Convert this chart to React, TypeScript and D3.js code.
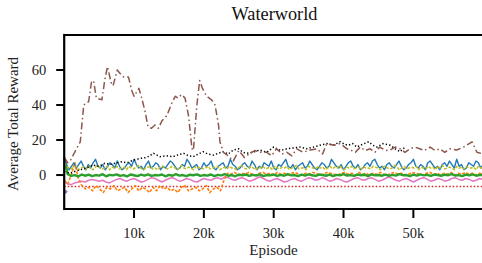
import { useRef, useEffect } from 'react';
import * as d3 from 'd3';

const WIDTH = 482;
const HEIGHT = 263;
const MAX_EPISODE = 60000;

// brown dash-dot run (episodes in thousands)
const brownX = [0, 0.5, 1, 1.5, 2.3, 2.8, 3.5, 3.9, 4.2, 4.6, 5.4, 5.8, 6.2, 6.7, 7.0, 7.6, 8.0, 8.5, 9.2, 9.7, 10, 10.7, 11.1, 11.6, 12, 12.5, 13, 13.5, 14, 14.7, 15.4, 15.9, 16.3, 16.8, 17.3, 17.8, 18.3, 18.5, 19, 19.4, 19.8, 20.4, 21.1, 21.6, 22.1, 22.3, 22.8, 23.5, 24.2, 25, 25.8, 26.6, 27.3, 28, 29, 29.7, 30.4, 31.2, 31.9, 32.6, 33.3, 34.2, 35.2, 36.2, 37, 37.6, 38.6, 39.5, 40.5, 41, 41.7, 42.4, 43.1, 43.8, 44.5, 45.2, 46, 46.7, 47.4, 48.1, 48.8, 49.5, 50.2, 50.9, 51.6, 52.4, 53.1, 53.8, 54.5, 55.2, 56.2, 57.2, 58.4, 59.1, 60];
const brownY = [10, 7, 9, 13, 19, 40, 42, 53, 54, 44, 43, 54, 62, 53, 51, 60, 58, 56, 56, 48, 45, 49.5, 44, 36, 27.6, 26.7, 28.6, 26.7, 31, 34, 41, 45, 44, 46, 44, 34, 15, 14, 40, 54, 49.5, 45, 43, 40, 28.6, 19, 13, 11, 8, 14, 10, 12.4, 14, 13, 13, 11, 15, 12, 13, 11, 15, 13, 14.3, 15, 12, 18, 17, 18, 15, 14.3, 13, 16, 14, 15, 13, 16, 14, 14.3, 16, 15, 13, 15, 16, 15, 14, 16, 14, 15, 13, 15, 14.3, 16, 19, 13, 12];

// black dotted run
const blackX = [0, 0.8, 1.5, 2.3, 3.2, 4.1, 5, 5.8, 6.6, 7.5, 8.3, 9, 9.9, 10.9, 11.8, 12.8, 13.7, 14.6, 15.6, 16.3, 17.1, 17.8, 18.5, 19.2, 19.9, 20.6, 21.4, 22.1, 22.8, 23.5, 24.2, 25, 25.6, 26.1, 27, 28, 29, 30, 31, 31.9, 32.8, 33.8, 34.7, 35.7, 36.6, 37.6, 38.5, 39.5, 40.2, 40.7, 41.3, 41.9, 42.7, 43.6, 44.2, 44.8, 45.7, 46.7, 47.4, 48.1, 48.8];
const blackY = [2, 1, 2, 3, 4, 5.7, 5, 6.7, 6, 7, 7.6, 7, 8.5, 9.5, 10, 12.4, 10.5, 11, 10.5, 11.5, 12.4, 11, 10.5, 12, 13.3, 12, 11.4, 12.5, 13.3, 12, 14.3, 15, 13, 12.4, 13, 14.3, 13, 16, 14, 15, 15.5, 16, 15, 16, 17, 18, 17, 19, 17.5, 17, 18, 16, 17.5, 19, 17, 16, 18, 17, 15, 13.3, 16];

// evenly logged runs, 0 .. 60k
const blue = [10, 6, 3, 5, 7, 4, 6, 8, 5, 3, 6, 4, 7, 9, 5, 4, 6, 3, 5, 7, 6, 4, 8, 5, 3, 4, 6, 7, 5, 9, 6, 4, 5, 3, 6, 8, 4, 5, 7, 6, 3, 5, 4, 6, 8, 7, 5, 3, 4, 6, 5, 9, 7, 4, 5, 6, 3, 4, 7, 5, 6, 8, 4, 3, 5, 6, 7, 4, 5, 9, 6, 5, 3, 4, 6, 7, 5, 4, 8, 6, 3, 5, 4, 7, 6, 5, 8, 4, 3, 6, 5, 7, 9, 5, 4, 6, 3, 5, 6, 7, 4, 5, 8, 6, 4, 3, 5, 7, 6, 4, 5, 9, 7, 5, 4, 6, 3, 5, 7, 8, 5, 4, 6, 3, 4, 6, 7, 5, 8, 9, 6, 4, 5, 3, 6, 7, 5, 4, 6, 8, 5, 3, 4, 6, 7, 9, 5, 4, 6, 5, 3, 7, 8, 6, 4, 5, 3, 6, 7, 5, 8, 6, 4, 9, 5, 6, 3, 4, 7, 6, 5, 8, 7, 4, 6];
const olive = [7, 5, 4, 3.5, 4.5, 5, 3, 4, 4.5, 3.5, 5, 4, 3, 4.5, 5.5, 4, 3.5, 4, 5, 3, 4.5, 4, 5, 3.5, 4, 4.5, 3, 5, 4, 3.5, 4.5, 5.5, 4, 3, 4, 4.5, 5, 3.5, 4, 3, 4.5, 5, 4, 3.5, 4, 5, 4.5, 3, 4, 5.5, 4, 3.5, 4.5, 4, 3, 5, 4, 4.5, 3.5, 4, 5, 3.5, 4, 4.5, 5, 3, 4, 4.5, 3.5, 5, 4, 4, 3, 4.5, 5.5, 4, 3.5, 4, 5, 4, 3, 4.5, 4, 5, 3.5, 4, 4.5, 3, 5, 4, 3.5, 4.5, 4, 5, 3, 4, 4.5, 5.5, 3.5, 4, 4, 3, 5, 4.5, 4, 3.5, 5, 4, 4.5, 3, 4, 5, 3.5, 4.5, 4, 5.5, 4, 3, 4.5, 4, 5, 3.5, 4, 4.5, 3, 5, 4, 4, 3.5, 5, 4.5, 4, 3, 4.5, 5, 4, 3.5, 4, 5.5, 4.5, 3, 4, 5, 3.5, 4, 4.5, 4, 5, 3, 4.5, 4, 3.5, 5, 4, 4.5, 3, 5, 4, 5.5, 3.5, 4, 4.5, 4, 3, 5, 4, 4.5, 3.5, 5, 4, 4, 4.5, 3, 5, 4, 4.5];
const green = [10, 0.5, -0.5, 0, -0.8, 0.3, -0.4, 0.2, -0.6, 0, -0.3, 0.5, -0.7, 0.1, -0.2, 0.4, -0.5, 0, -0.8, 0.3, -0.1, -0.6, 0.2, -0.3, 0.4, -0.5, 0, -0.2, 0.3, -0.7, 0.1, -0.4, 0.5, -0.3, 0, -0.6, 0.2, -0.1, 0.4, -0.5, 0, -0.3, 0.3, -0.6, 0.1, -0.2, 0.5, -0.4, 0, -0.7, 0.2, -0.1, 0.3, -0.5, 0.1, -0.3, 0.4, -0.6, 0, -0.2, 0.3, -0.5, 0.1, -0.4, 0.5, -0.2, 0, -0.6, 0.2, -0.3, 0.4, -0.1, -0.5, 0.3, 0, -0.4, 0.2, -0.6, 0.1, -0.2, 0.5, -0.3, 0, -0.5, 0.3, -0.1, 0.2, -0.6, 0.4, -0.2, 0, -0.4, 0.3, -0.5, 0.1, -0.3, 0.5, -0.1, 0, -0.6, 0.2, -0.3, 0.4, -0.2, 0.1, -0.5, 0.3, 0, -0.4, 0.2, -0.1, 0.5, -0.3, 0, -0.6, 0.2, -0.2, 0.4, -0.4, 0.1, 0];
const orange = [-3, -5, 0, 7, -2, -6, -8, -7, -9, -6, -8, -10, -7, -8, -6, -9, -8, -7, -10, -8, -6, -9, -7, -8, -10, -7, -9, -6, -8, -7, -9, -8, -10, -7, -6, -9, -8, -7, -9, -8, -6, -10, -8, -7, -9, -3, 1, 0.5, 1.5, 0, 1, 0.5, 1.5, 0.5, 0, 1, 1.5, 0.5, 1, 0, 1.5, 0.5, 1, 0, 1, 1.5, 0.5, 0, 1, 0.5, 1.5, 1, 0, 0.5, 1.5, 1, 0.5, 0, 1, 1.5, 0.5, 1, 0, 1.5, 0.5, 1, 0, 1, 0.5, 1.5, 0.5, 0, 1, 1.5, 0.5, 1, 0, 0.5, 1.5, 1, 0.5, 0, 1, 1.5, 0.5, 1, 0, 1, 0.5, 1.5, 0, 1, 0.5, 1.5, 0.5, 1, 0, 1, 0.5];
const pink = [-4, -5, -5.5, -4.5, -4, -3.5, -4, -3, -2.5, -3, -3.5, -3, -4, -4.5, -3.5, -2.5, -2, -3, -3.5, -2.5, -2, -3, -4, -3.5, -2.5, -1.5, -2, -3, -4, -3, -2, -1.5, -2.5, -3.5, -3, -2, -2.5, -3.5, -4, -3, -2, -2.5, -3, -2, -1.5, -2.5, -1, -1.5, -2.5, -3, -2, -1.5, -2.5, -3.5, -3, -2, -1, -2, -3, -3.5, -2.5, -2, -3, -4, -3.5, -2.5, -2, -3, -3.5, -2.5, -1.5, -2, -3, -2.5, -1.5, -2.5, -3.5, -3, -2, -2.5, -3.5, -4, -3, -2, -1.5, -2.5, -3, -2, -1.5, -2.5, -3.5, -3, -2, -1, -2, -3, -3.5, -2.5, -2, -3, -4, -3, -2, -1.5, -2.5, -3.5, -3, -2, -2.5, -3.5, -3, -2, -1.5, -2.5, -3, -2, -2.5, -3.5, -3, -2, -2.5];

const redX = [0, 60];
const redY = [-6.5, -6.5];
const purpleX = [0, 0.2, 0.4];
const purpleY = [-8, -10, -9];

const yTicks = [0, 20, 40, 60];
const xTicks = [10000, 20000, 30000, 40000, 50000];

const FONT = "'Liberation Serif', 'Times New Roman', Times, serif";

function evenRun(values: number[]) {
  return values.map((v, i) => ({ x: (i * MAX_EPISODE) / (values.length - 1), y: v }));
}
function pairRun(xs: number[], ys: number[]) {
  return xs.map((x, i) => ({ x: x * 1000, y: ys[i] }));
}

function Chart() {
  const svgRef = useRef<SVGSVGElement>(null);

  useEffect(() => {
    const svg = d3.select(svgRef.current);
    svg.selectAll('*').remove();

    const left = 64.2;
    const top = 35;
    const bottom = 209;

    const x = d3.scaleLinear().domain([0, MAX_EPISODE]).range([left, left + 419]);
    const y = d3.scaleLinear().domain([-19.4, 80]).range([bottom, top]);

    const line = d3
      .line<{ x: number; y: number }>()
      .x((d) => x(d.x))
      .y((d) => y(d.y));

    const plot = svg.append('g');

    const series = [
      { data: pairRun(redX, redY), color: '#d62728', width: 1.5, dash: '1.5,2' },
      { data: evenRun(pink), color: '#e377c2', width: 1.5, dash: null },
      { data: evenRun(orange), color: '#ff7f0e', width: 1.6, dash: '3,1.5' },
      { data: evenRun(green), color: '#2ca02c', width: 2.4, dash: null },
      { data: evenRun(blue), color: '#1f77b4', width: 1.4, dash: null },
      { data: evenRun(olive), color: '#bcbd22', width: 1.5, dash: '3,1.5' },
      { data: pairRun(blackX, blackY), color: '#000000', width: 1.5, dash: '1.3,2.2' },
      { data: pairRun(brownX, brownY), color: '#8c564b', width: 1.5, dash: '7,3,1.5,3' },
      { data: pairRun(purpleX, purpleY), color: '#9467bd', width: 2, dash: null },
    ];

    series.forEach((s) => {
      plot
        .append('path')
        .datum(s.data)
        .attr('fill', 'none')
        .attr('stroke', s.color)
        .attr('stroke-width', s.width)
        .attr('stroke-dasharray', s.dash)
        .attr('stroke-linejoin', 'round')
        .attr('d', line);
    });

    // spines
    const spine = svg.append('g').attr('stroke', '#000').attr('stroke-width', 2.2);
    spine.append('line').attr('x1', left).attr('x2', left).attr('y1', top - 1.1).attr('y2', bottom + 1.1);
    spine.append('line').attr('x1', left).attr('x2', WIDTH + 5).attr('y1', top).attr('y2', top);
    spine.append('line').attr('x1', left).attr('x2', WIDTH + 5).attr('y1', bottom).attr('y2', bottom);

    const text = (sel: d3.Selection<SVGTextElement, unknown, null, undefined>, size: number) =>
      sel.style('font-family', FONT).style('font-size', `${size}px`).attr('fill', '#222');

    // y ticks
    yTicks.forEach((t) => {
      svg.append('line')
        .attr('x1', left - 8).attr('x2', left)
        .attr('y1', y(t)).attr('y2', y(t))
        .attr('stroke', '#000').attr('stroke-width', 2);
      text(svg.append('text'), 14.5)
        .attr('x', left - 18).attr('y', y(t))
        .attr('dy', '0.33em')
        .attr('text-anchor', 'end')
        .text(t);
    });

    // x ticks
    xTicks.forEach((t) => {
      svg.append('line')
        .attr('x1', x(t)).attr('x2', x(t))
        .attr('y1', bottom).attr('y2', bottom + 9)
        .attr('stroke', '#000').attr('stroke-width', 2);
      text(svg.append('text'), 14.5)
        .attr('x', x(t)).attr('y', 238)
        .attr('text-anchor', 'middle')
        .text(`${t / 1000}k`);
    });

    text(svg.append('text'), 15)
      .attr('x', 273.5).attr('y', 255)
      .attr('text-anchor', 'middle')
      .text('Episode');

    text(svg.append('text'), 15)
      .attr('transform', 'translate(18,124) rotate(-90)')
      .attr('text-anchor', 'middle')
      .text('Average Total Reward');

    text(svg.append('text'), 18.3)
      .attr('x', 274.5).attr('y', 20)
      .attr('text-anchor', 'middle')
      .attr('fill', '#111')
      .text('Waterworld');
  }, []);

  return <svg ref={svgRef} width={WIDTH} height={HEIGHT} style={{ display: 'block' }} />;
}

export default function App() {
  return (
    <div style={{ position: 'absolute', left: 0, top: 0, width: WIDTH, height: HEIGHT, overflow: 'hidden', background: '#fff' }}>
      <Chart />
    </div>
  );
}
